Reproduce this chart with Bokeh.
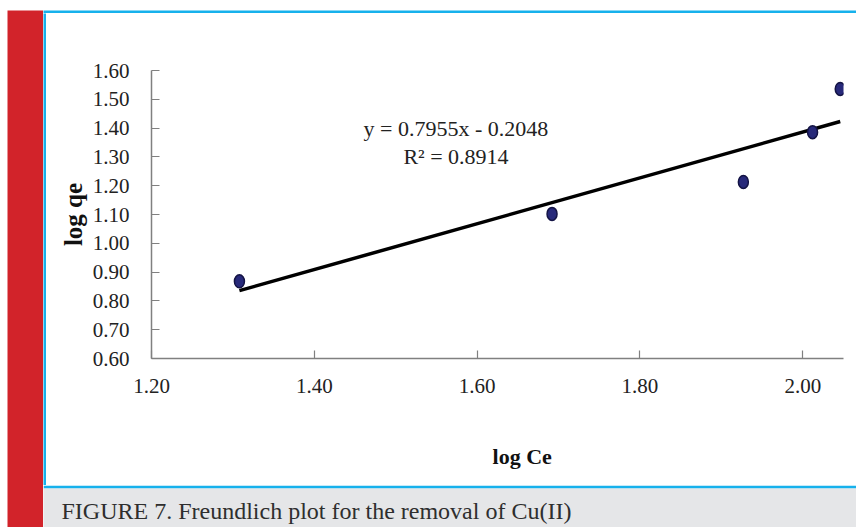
from bokeh.plotting import figure
from bokeh.layouts import row, column
from bokeh.models import Label, Range1d, FixedTicker
from bokeh.embed import file_html
from bokeh.resources import INLINE

log_ce = [1.308, 1.692, 1.927, 2.012, 2.046]
log_qe = [0.868, 1.102, 1.213, 1.386, 1.536]
slope = 0.7955
intercept = -0.2048
r2 = 0.8914
x_ticks = [1.20, 1.40, 1.60, 1.80, 2.00]
y_ticks = [0.60, 0.70, 0.80, 0.90, 1.00, 1.10, 1.20, 1.30, 1.40, 1.50, 1.60]
caption = "FIGURE 7. Freundlich plot for the removal of Cu(II)"

SERIF = "Liberation Serif"
RED = "#d2232a"
BLUE = "#16b1ec"
GRAY = "#e5e6e8"


def block(w, h, color, left=0, top=0, border="white"):
    f = figure(width=w, height=h, output_backend="svg", toolbar_location=None,
               x_axis_type=None, y_axis_type=None, frame_align=False,
               min_border=0, min_border_left=left, min_border_top=top,
               min_border_right=0, min_border_bottom=0)
    f.grid.visible = False
    f.outline_line_color = None
    f.background_fill_color = color
    f.border_fill_color = border
    return f


p = figure(width=810, height=472, output_backend="svg", toolbar_location=None,
           x_range=Range1d(1.20, 2.05), y_range=Range1d(0.60, 1.60), frame_align=False,
           min_border_left=105, min_border_right=13, min_border_top=57, min_border_bottom=127)
p.outline_line_color = None
p.grid.visible = False
p.background_fill_color = "white"
p.border_fill_color = "white"

for ax in (p.xaxis, p.yaxis):
    ax.axis_line_color = "#808080"
    ax.axis_line_width = 1.5
    ax.major_tick_line_color = "#808080"
    ax.major_tick_line_width = 1.2
    ax.major_tick_in = 8
    ax.major_tick_out = 0
    ax.minor_tick_line_color = None
    ax.major_label_text_font = SERIF
    ax.major_label_text_font_size = "21px"
    ax.major_label_text_color = "#222222"
    ax.axis_label_text_font = SERIF
    ax.axis_label_text_font_style = "bold"
    ax.axis_label_text_color = "#111111"

p.xaxis.axis_label_text_font_size = "22px"
p.yaxis.axis_label_text_font_size = "25px"
p.xaxis.ticker = FixedTicker(ticks=x_ticks)
p.yaxis.ticker = FixedTicker(ticks=y_ticks)
p.xaxis.major_label_overrides = {t: f"{t:.2f}" for t in x_ticks}
p.yaxis.major_label_overrides = {t: f"{t:.2f}" for t in y_ticks}
p.xaxis.major_label_standoff = 20
p.yaxis.major_label_standoff = 22
p.xaxis.axis_label = "\u00a0" * 9 + "log Ce"
p.yaxis.axis_label = "log qe"
p.xaxis.axis_label_standoff = 48
p.yaxis.axis_label_standoff = 3

# trend line
x_fit = [min(log_ce), max(log_ce)]
y_fit = [slope * v + intercept for v in x_fit]
p.line(x_fit, y_fit, line_color="black", line_width=3.5)

# points
p.ellipse(log_ce, log_qe, width=10, height=13, width_units="screen", height_units="screen",
          fill_color="#27297a", line_color="#141445", line_width=1.5)

p.add_layout(Label(x=1.574, y=1.399, text=f"y = {slope}x - {abs(intercept)}",
                   text_font=SERIF, text_font_size="22px", text_align="center",
                   text_baseline="middle", text_color="#222222"))
p.add_layout(Label(x=1.574, y=1.300, text=f"R² = {r2}",
                   text_font=SERIF, text_font_size="22px", text_align="center",
                   text_baseline="middle", text_color="#222222"))

# panel decorations
red_bar = block(43, 527, RED, left=7, top=10)
blue_top = block(813, 13, BLUE, top=10)
blue_left = block(3, 472, BLUE, border=BLUE)
cap = block(813, 42, GRAY, top=3, border=BLUE)
cap.add_layout(Label(x=18, y=17, x_units="screen", y_units="screen", text=caption,
                     text_font=SERIF, text_font_size="24px", text_baseline="alphabetic",
                     text_color="#2e2e2e"))

layout = column(row(red_bar,
                    column(blue_top, row(blue_left, p, spacing=0), cap, spacing=0),
                    spacing=0),
                spacing=0, width=856, height=527)

open("out.html", "w").write(file_html(layout, INLINE))
